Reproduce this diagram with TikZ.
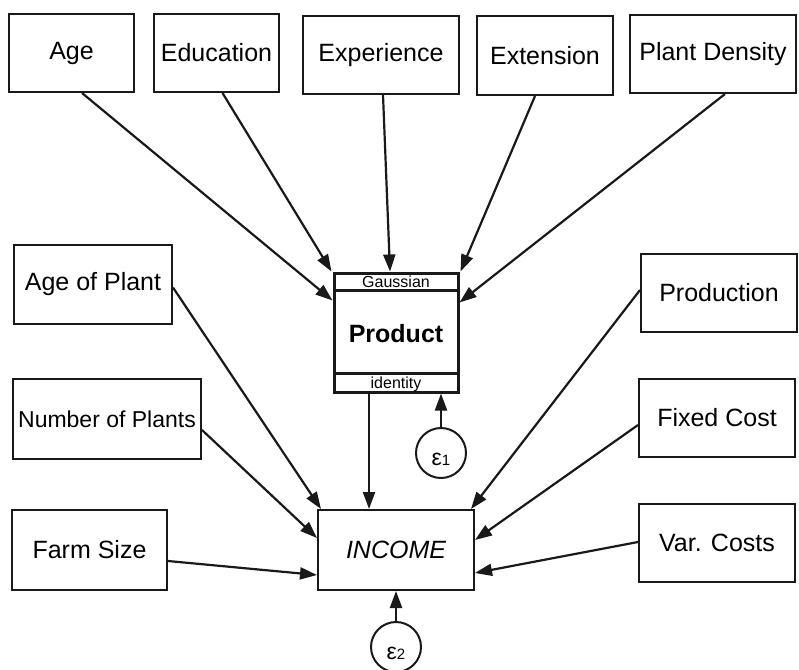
\documentclass[tikz,border=0pt]{standalone}
\usepackage{fontspec}
\setmainfont{Liberation Sans}
\usetikzlibrary{arrows.meta,calc}
\tikzset{
  box/.style={draw=black!90, line width=2pt, rectangle, inner sep=0pt, font=\fontsize{25}{30}\selectfont},
  prodbox/.style={draw=black!90, line width=3pt, rectangle, inner sep=0pt},
  err/.style={draw=black!90, line width=2pt, circle, minimum size=50pt, inner sep=0pt},
  arr/.style={draw=black!90, line width=2.2pt, -{Triangle[length=17pt,width=12pt]}},
  band/.style={font=\fontsize{16}{18}\selectfont, inner sep=0pt},
}
\newcommand{\epsi}[1]{{\fontsize{23}{23}\selectfont ε}{\fontsize{15}{15}\selectfont #1}}
\begin{document}
\begin{tikzpicture}[x=1pt,y=-1pt]
\useasboundingbox (0,0) rectangle (799,669);
% top row
\node[box, minimum width=125pt, minimum height=78pt] (age) at (71.5,53) {Age};
\node[box, minimum width=125pt, minimum height=78pt] (edu) at (216.5,53) {Education};
\node[box, minimum width=156pt, minimum height=78pt] (exp) at (381,55) {Experience};
\node[box, minimum width=136pt, minimum height=79pt] (ext) at (545,55.5) {Extension};
\node[box, minimum width=166pt, minimum height=78pt] (pd) at (713,54) {Plant Density};
% left column
\node[box, minimum width=158pt, minimum height=79pt] (aop) at (93,284.5) {Age of Plant};
\node[box, minimum width=188pt, minimum height=80pt, font=\fontsize{23}{28}\selectfont] (nop) at (107,419) {Number of Plants};
\node[box, minimum width=155pt, minimum height=80pt] (fs) at (89.5,550) {Farm Size};
% right column
\node[box, minimum width=156pt, minimum height=78pt] (prod) at (719,293) {Production};
\node[box, minimum width=156pt, minimum height=78pt] (fc) at (717,418) {Fixed Cost};
\node[box, minimum width=156pt, minimum height=78pt] (vc) at (717,543) {Var. Costs};
% product
\node[prodbox, minimum width=124pt, minimum height=119pt] (pr) at (396,332.5) {};
\draw[line width=2.4pt, draw=black!90] ([yshift=-19pt]pr.north west) -- ([yshift=-19pt]pr.north east);
\draw[line width=2.4pt, draw=black!90] ([yshift=20pt]pr.south west) -- ([yshift=20pt]pr.south east);
\node[band] (gauss) at (396,282) {Gaussian};
\node[inner sep=0pt, font=\bfseries\fontsize{25}{30}\selectfont] (prlab) at (396,334) {Product};
\node[band] (ident) at (396,384) {identity};
% income
\node[box, minimum width=156pt, minimum height=80pt, font=\itshape\fontsize{25}{30}\selectfont] (inc) at (396,550) {INCOME};
% errors
\node[err] (e1) at (441,453) {};
\node[inner sep=0pt] (e1lab) at (441,459) {\epsi{1}};
\node[err] (e2) at (396,647) {};
\node[inner sep=0pt] (e2lab) at (396,653) {\epsi{2}};
% arrows to product
\draw[arr] ([xshift=10.5pt]age.south) -- ([yshift=32pt]pr.west);
\draw[arr] ([xshift=6pt]edu.south) -- ([xshift=-1pt]pr.north west);
\draw[arr] ([xshift=2pt]exp.south) -- ([xshift=-6pt]pr.north);
\draw[arr] ([xshift=-10pt]ext.south) -- ([xshift=1pt]pr.north east);
\draw[arr] ([xshift=12pt]pd.south) -- ([yshift=30pt]pr.east);
% arrows to income
\draw[arr] ([yshift=-3pt]aop.east) -- ([xshift=4pt]inc.north west);
\draw[arr] ([yshift=-11pt]nop.east) -- ([yshift=12pt]inc.west);
\draw[arr] ([yshift=-11pt]fs.east) -- ([yshift=-25pt]inc.west);
\draw[arr] ([yshift=3pt]prod.west) -- ([xshift=-4pt]inc.north east);
\draw[arr] ([yshift=-7pt]fc.west) -- ([yshift=10pt]inc.east);
\draw[arr] ([yshift=1pt]vc.west) -- ([yshift=-23pt]inc.east);
\draw[arr] ([xshift=-27pt]pr.south) -- ([xshift=-27pt]inc.north);
% errors
\draw[arr] (e1.north) -- ([xshift=45pt]pr.south);
\draw[arr] (e2.north) -- (inc.south);
\end{tikzpicture}
\end{document}
